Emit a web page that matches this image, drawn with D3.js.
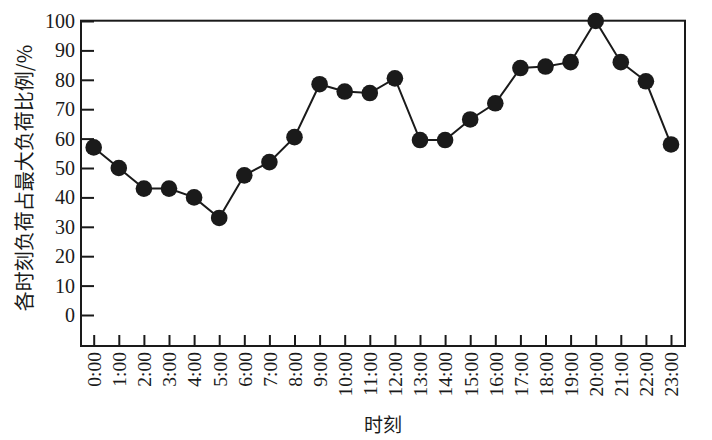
<!DOCTYPE html>
<html><head><meta charset="utf-8">
<script src="https://cdn.jsdelivr.net/npm/d3@7/dist/d3.min.js"></script>
<style>
html,body{margin:0;padding:0;background:#fff;}
svg{display:block;}
</style></head>
<body>
<svg id="c" width="712" height="440"></svg>
<script>
const hours = ["0:00","1:00","2:00","3:00","4:00","5:00","6:00","7:00","8:00","9:00","10:00","11:00","12:00","13:00","14:00","15:00","16:00","17:00","18:00","19:00","20:00","21:00","22:00","23:00"];
const loadRatio = [57, 50, 43, 43, 40, 33, 47.5, 52, 60.5, 78.5, 76, 75.5, 80.5, 59.5, 59.5, 66.5, 72, 84, 84.5, 86, 100, 86, 79.5, 58];
const yTicks = [0,10,20,30,40,50,60,70,80,90,100];
const yTitle = "各时刻负荷占最大负荷比例/%";
const xTitle = "时刻";

const svg = d3.select("#c");
const L = 81, R = 685, T = 20.7, B = 346;
const x = d3.scalePoint().domain(hours).range([93.7, 671]);
const y = d3.scaleLinear().domain([0,100]).range([315, 21]);
const serif = "'Liberation Serif','Times New Roman',serif";
const cjk = "'Noto Sans CJK SC','Noto Sans CJK JP',sans-serif";

// frame
svg.append("rect").attr("x",L).attr("y",T).attr("width",R-L).attr("height",B-T)
  .attr("fill","none").attr("stroke","#1a1a1a").attr("stroke-width",2);

// y axis
const ya = svg.append("g").attr("transform",`translate(${L},0)`)
  .call(d3.axisLeft(y).tickValues(yTicks).tickFormat(d3.format("d")).tickSize(-13).tickPadding(6));
ya.select(".domain").remove();
ya.selectAll("line").attr("stroke","#1a1a1a").attr("stroke-width",2);
ya.selectAll("text").attr("font-family",serif).attr("font-size",20).attr("fill","#1a1a1a");

// x axis
const xa = svg.append("g").attr("transform",`translate(0,${B})`)
  .call(d3.axisBottom(x).tickSize(-11).tickPadding(6));
xa.select(".domain").remove();
xa.selectAll("line").attr("stroke","#1a1a1a").attr("stroke-width",2);
xa.selectAll("text").attr("font-family",serif).attr("font-size",19.5).attr("fill","#1a1a1a")
  .attr("transform","rotate(-90)").attr("text-anchor","end")
  .attr("x",-6).attr("y",0).attr("dy","0.35em");

// line
svg.append("path").datum(loadRatio)
  .attr("d", d3.line().x((d,i)=>x(hours[i])).y(d=>y(d)))
  .attr("fill","none").attr("stroke","#1a1a1a").attr("stroke-width",2);

// points
svg.append("g").selectAll("circle").data(loadRatio).join("circle")
  .attr("cx",(d,i)=>x(hours[i])).attr("cy",d=>y(d)).attr("r",8.3)
  .attr("fill","#1a1a1a");

// titles
svg.append("text").attr("transform",`translate(32,178) rotate(-90)`)
  .attr("text-anchor","middle").attr("font-family",cjk).attr("font-size",20)
  .attr("fill","#1a1a1a").text(yTitle);
svg.append("text").attr("x",383).attr("y",432).attr("text-anchor","middle")
  .attr("font-family",cjk).attr("font-size",19).attr("fill","#1a1a1a").text(xTitle);
</script>
</body></html>
